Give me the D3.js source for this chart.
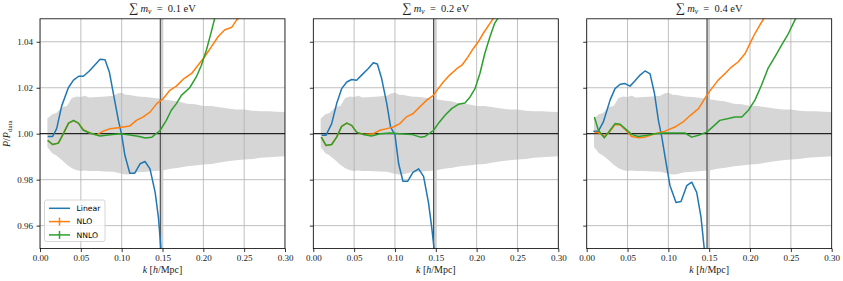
<!DOCTYPE html>
<html><head><meta charset="utf-8">
<script src="https://cdn.jsdelivr.net/npm/d3@7"></script>
<style>html,body{margin:0;padding:0;background:#fff;}svg{display:block;}</style>
</head><body>
<script>
// ---------- data ----------
const panelTitles = ["0.1", "0.2", "0.4"];
const xTicks = [0.00, 0.05, 0.10, 0.15, 0.20, 0.25, 0.30];
const yTicks = [0.96, 0.98, 1.00, 1.02, 1.04];
const kCut = 0.1473;

const bandK     = [0.009,0.015,0.02,0.027,0.033,0.039,0.045,0.05,0.055,0.06,0.07,0.08,0.09,0.095,0.1,0.105,0.11,0.12,0.13,0.14,0.15,0.16,0.17,0.18,0.19,0.2,0.21,0.22,0.23,0.24,0.25,0.26,0.27,0.28,0.29,0.3];
const bandUpper = [1.0066,1.0085,1.009,1.0116,1.012,1.0155,1.0162,1.016,1.0165,1.0158,1.016,1.0162,1.0165,1.0175,1.0178,1.017,1.0168,1.0162,1.016,1.0155,1.015,1.0145,1.014,1.013,1.0128,1.012,1.012,1.0115,1.011,1.0105,1.0105,1.01,1.0098,1.0098,1.0095,1.0094];
const bandLower = [0.9942,0.9915,0.9905,0.9884,0.9865,0.985,0.9841,0.9838,0.984,0.9838,0.9838,0.9836,0.9834,0.983,0.9826,0.9822,0.9824,0.9832,0.9834,0.9838,0.984,0.9848,0.9852,0.9858,0.9862,0.9866,0.9868,0.9875,0.988,0.9885,0.9888,0.989,0.9895,0.9897,0.99,0.9902];

// Panel 1 (0.1 eV)
const lin1K = [0.0094,0.0155,0.0204,0.0265,0.0347,0.041,0.0474,0.0531,0.0604,0.0694,0.0735,0.0796,0.0849,0.0898,0.096,0.1,0.104,0.11,0.116,0.1225,0.1286,0.1347,0.141,0.145,0.1485];
const lin1V = [0.9988,0.9988,1.0022,1.012,1.02,1.0233,1.025,1.025,1.0273,1.0308,1.0324,1.0322,1.0269,1.0175,1.0058,0.9995,0.9905,0.9828,0.9828,0.9869,0.9879,0.9847,0.9745,0.9636,0.948];
const nlo1K = [0.0094,0.0155,0.0225,0.0286,0.035,0.041,0.047,0.053,0.061,0.069,0.078,0.086,0.098,0.11,0.118,0.1265,0.1347,0.143,0.151,0.159,0.167,0.175,0.1857,0.1935,0.2016,0.2098,0.218,0.226,0.2347,0.2408,0.2460];
const nlo1V = [0.9971,0.9953,0.9959,1.0,1.0046,1.0056,1.0046,1.0018,1.0003,0.9995,1.0012,1.0022,1.0027,1.0034,1.0058,1.0073,1.0094,1.0131,1.0153,1.0189,1.0207,1.0236,1.0262,1.0298,1.0335,1.0378,1.0422,1.0451,1.0463,1.0495,1.051];
const nnlo1K = [0.0094,0.0155,0.0225,0.0286,0.035,0.041,0.047,0.053,0.061,0.0735,0.086,0.098,0.108,0.12,0.129,0.137,0.147,0.1547,0.1608,0.167,0.1731,0.1833,0.1914,0.1976,0.2037,0.2098,0.2145];
const nnlo1V = [0.9971,0.9953,0.9959,1.0,1.0046,1.0058,1.0046,1.0015,1.0003,0.999,0.9995,1.0,0.9995,0.9989,0.9981,0.9985,1.0014,1.0058,1.0102,1.0131,1.0167,1.02,1.0247,1.0298,1.0363,1.0444,1.051];

// Panel 2 (0.2 eV)
const lin2K = [0.0103,0.0155,0.0225,0.0286,0.0347,0.041,0.047,0.053,0.0592,0.0674,0.0735,0.0784,0.0837,0.09,0.0947,0.1,0.1045,0.1098,0.1155,0.122,0.129,0.135,0.141,0.145,0.1485];
const lin2V = [0.9993,0.9993,1.0044,1.0131,1.0196,1.0225,1.0236,1.0233,1.0255,1.0284,1.0309,1.0303,1.024,1.0131,1.0029,0.9995,0.9869,0.9793,0.9793,0.9832,0.9847,0.9814,0.9701,0.9592,0.948];
const nlo2K = [0.0098,0.0155,0.0225,0.0286,0.0347,0.041,0.047,0.053,0.061,0.0735,0.0816,0.09,0.098,0.106,0.114,0.122,0.131,0.139,0.147,0.153,0.1592,0.167,0.176,0.182,0.188,0.196,0.202,0.208,0.2163,0.222];
const nlo2V = [0.9985,0.9949,0.9953,0.9985,1.0032,1.0046,1.0036,1.0007,0.9997,1.0,1.0015,1.0022,1.0029,1.0044,1.0073,1.0087,1.0119,1.0146,1.0167,1.0196,1.0225,1.0255,1.0284,1.0298,1.0327,1.0371,1.04,1.0436,1.048,1.051];
const nnlo2K = [0.0098,0.0155,0.0225,0.0286,0.0347,0.041,0.047,0.053,0.061,0.0714,0.0816,0.094,0.106,0.1204,0.131,0.137,0.147,0.153,0.1613,0.1694,0.1776,0.1857,0.192,0.198,0.204,0.21,0.2163,0.222,0.2275];
const nnlo2V = [0.9985,0.9949,0.9953,0.9985,1.0032,1.0046,1.0036,1.0007,0.9997,0.999,1.0,1.0003,1.0,0.9997,0.9985,0.9988,1.0014,1.0044,1.008,1.0109,1.0128,1.0134,1.016,1.0196,1.0262,1.0349,1.0422,1.048,1.051];

// Panel 3 (0.4 eV)
const lin3K = [0.0082,0.0143,0.0204,0.0286,0.0347,0.041,0.047,0.053,0.0592,0.0653,0.0714,0.0776,0.083,0.0878,0.092,0.096,0.102,0.1094,0.1155,0.1225,0.1286,0.1347,0.14,0.1445];
const lin3V = [1.0011,1.0011,1.0051,1.0146,1.0196,1.0215,1.0218,1.0207,1.023,1.0255,1.0273,1.026,1.0175,1.0058,0.9985,0.9898,0.9774,0.9701,0.9705,0.9774,0.9789,0.9745,0.9636,0.948];
const nlo3K = [0.0094,0.0143,0.0216,0.0286,0.0347,0.041,0.047,0.055,0.0633,0.0714,0.0837,0.096,0.108,0.118,0.127,0.137,0.147,0.153,0.161,0.1694,0.1776,0.1857,0.194,0.2,0.206,0.212,0.2185];
const nlo3V = [1.0005,1.0005,0.9988,1.001,1.004,1.0038,1.0018,0.9988,0.9982,0.9985,1.0,1.0011,1.0029,1.0051,1.008,1.0109,1.0167,1.0196,1.0233,1.0262,1.0291,1.0313,1.0349,1.0393,1.0436,1.0473,1.051];
const nnlo3K = [0.0094,0.0143,0.0216,0.0286,0.0347,0.041,0.047,0.055,0.0633,0.0735,0.0837,0.096,0.108,0.1204,0.1286,0.137,0.147,0.155,0.163,0.1735,0.1816,0.19,0.198,0.206,0.214,0.222,0.2306,0.2388,0.247,0.255,0.2575];
const nnlo3V = [1.0073,1.0015,0.9982,1.0015,1.0044,1.0041,1.0022,0.9997,0.9988,0.9993,1.0,1.0003,1.0003,1.0003,0.9985,0.9993,1.0007,1.0032,1.0058,1.0066,1.0073,1.0073,1.0102,1.0146,1.0211,1.0284,1.0335,1.0386,1.0436,1.0495,1.051];

const panels = [
  {title: panelTitles[0], lin:[lin1K,lin1V], nlo:[nlo1K,nlo1V], nnlo:[nnlo1K,nnlo1V]},
  {title: panelTitles[1], lin:[lin2K,lin2V], nlo:[nlo2K,nlo2V], nnlo:[nnlo2K,nnlo2V]},
  {title: panelTitles[2], lin:[lin3K,lin3V], nlo:[nlo3K,nlo3V], nnlo:[nnlo3K,nnlo3V]},
];
const colors = {lin:"#1f77b4", nlo:"#ff7f0e", nnlo:"#2ca02c"};

// ---------- layout ----------
const W = 843, H = 281;
const panelLeft = [40, 313.3, 586.7];
const pw = 245, plotTop = 18.8, plotBottom = 248.6;
const serif = "'Liberation Serif', 'DejaVu Serif', serif";

const svg = d3.select("body").append("svg").attr("width", W).attr("height", H);

const y = d3.scaleLinear().domain([0.95, 1.05]).range([plotBottom, plotTop]);

panels.forEach((p, i) => {
  const x = d3.scaleLinear().domain([0, 0.30]).range([panelLeft[i], panelLeft[i] + pw]);
  const g = svg.append("g");
  const clipId = "clip" + i;
  svg.append("clipPath").attr("id", clipId).append("rect")
    .attr("x", x(0)).attr("y", plotTop).attr("width", pw).attr("height", plotBottom - plotTop);

  const cg = g.append("g").attr("clip-path", `url(#${clipId})`);

  // band
  const area = d3.area().x((d) => x(d[0])).y0((d) => y(d[2])).y1((d) => y(d[1]));
  cg.append("path").datum(bandK.map((k, j) => [k, bandUpper[j], bandLower[j]]))
    .attr("d", area).attr("fill", "#d6d6d6");

  // grid
  cg.selectAll(".gx").data(xTicks).join("line")
    .attr("x1", (d) => x(d)).attr("x2", (d) => x(d)).attr("y1", plotTop).attr("y2", plotBottom)
    .attr("stroke", "#b0b0b0").attr("stroke-width", 0.8);
  cg.selectAll(".gy").data(yTicks).join("line")
    .attr("x1", x(0)).attr("x2", x(0.3)).attr("y1", (d) => y(d)).attr("y2", (d) => y(d))
    .attr("stroke", "#b0b0b0").attr("stroke-width", 0.8);

  // reference lines
  cg.append("rect").attr("x", x(kCut)).attr("y", plotTop).attr("width", 3).attr("height", plotBottom - plotTop)
    .attr("fill", "#cfcfcf");
  cg.append("line").attr("x1", x(kCut)).attr("x2", x(kCut)).attr("y1", plotTop).attr("y2", plotBottom)
    .attr("stroke", "#444").attr("stroke-width", 1.1);
  cg.append("line").attr("x1", x(0)).attr("x2", x(0.3)).attr("y1", y(1)).attr("y2", y(1))
    .attr("stroke", "#000").attr("stroke-width", 1);

  // curves
  const line = d3.line().x((d) => x(d[0])).y((d) => y(d[1]));
  [["lin", p.lin], ["nlo", p.nlo], ["nnlo", p.nnlo]].forEach(([key, arr]) => {
    cg.append("path").datum(arr[0].map((k, j) => [k, arr[1][j]]))
      .attr("d", line).attr("fill", "none").attr("stroke", colors[key])
      .attr("stroke-width", 1.5).attr("stroke-linejoin", "round");
  });

  // axes
  const xAxis = d3.axisBottom(x).tickValues(xTicks).tickSize(3.5).tickPadding(3).tickFormat(d3.format(".2f"));
  const gx = g.append("g").attr("transform", `translate(0,${plotBottom})`).call(xAxis);
  const yAxis = d3.axisLeft(y).tickValues(yTicks).tickSize(3.5).tickPadding(3.5)
    .tickFormat(i === 0 ? d3.format(".2f") : () => "");
  const gy = g.append("g").attr("transform", `translate(${x(0)},0)`).call(yAxis);
  [gx, gy].forEach((a) => {
    a.select(".domain").remove();
    a.selectAll(".tick line").attr("stroke", "#000").attr("stroke-width", 0.8);
    a.selectAll(".tick text").attr("font-family", serif).attr("font-size", 9).attr("fill", "#222");
  });

  // frame
  g.append("rect").attr("x", x(0)).attr("y", plotTop).attr("width", pw).attr("height", plotBottom - plotTop)
    .attr("fill", "none").attr("stroke", "#000").attr("stroke-width", 0.8);

  // title
  const t = g.append("text").attr("x", x(0.15)).attr("y", 12).attr("text-anchor", "middle")
    .attr("font-family", serif).attr("font-size", 10.5).attr("fill", "#222");
  t.append("tspan").attr("font-size", 13).text("∑");
  t.append("tspan").attr("dx", 2).attr("font-style", "italic").text("m");
  t.append("tspan").attr("font-style", "italic").attr("font-size", 7.5).attr("dy", 2).text("ν");
  t.append("tspan").attr("dy", -2).attr("xml:space", "preserve").text("  =  " + p.title + " eV");

  // x label
  const xl = g.append("text").attr("x", x(0.15)).attr("y", 273).attr("text-anchor", "middle")
    .attr("font-family", serif).attr("font-size", 10).attr("fill", "#222");
  xl.append("tspan").attr("font-style", "italic").text("k");
  xl.append("tspan").text(" [");
  xl.append("tspan").attr("font-style", "italic").text("h");
  xl.append("tspan").text("/Mpc]");
});

// y label
const yl = svg.append("text").attr("transform", `translate(10,${(plotTop + plotBottom) / 2}) rotate(-90)`)
  .attr("text-anchor", "middle").attr("font-family", serif).attr("font-size", 10).attr("fill", "#222");
yl.append("tspan").attr("font-style", "italic").text("P");
yl.append("tspan").text("/");
yl.append("tspan").attr("font-style", "italic").text("P");
yl.append("tspan").attr("font-size", 7).attr("dy", 1.8).text("data");

// legend
const legendLabels = ["Linear", "NLO", "NNLO"];
const legendKeys = ["lin", "nlo", "nnlo"];
const lg = svg.append("g");
lg.append("rect").attr("x", 44.5).attr("y", 200).attr("width", 60.5).attr("height", 41.5).attr("rx", 2)
  .attr("fill", "#fff").attr("fill-opacity", 0.8).attr("stroke", "#ccc").attr("stroke-width", 0.8);
legendLabels.forEach((lab, j) => {
  const yy = 208.3 + j * 13.3;
  lg.append("line").attr("x1", 49).attr("x2", 70).attr("y1", yy).attr("y2", yy)
    .attr("stroke", colors[legendKeys[j]]).attr("stroke-width", 1.5);
  if (j > 0) {
    lg.append("line").attr("x1", 59.5).attr("x2", 59.5).attr("y1", yy - 4).attr("y2", yy + 4)
      .attr("stroke", colors[legendKeys[j]]).attr("stroke-width", 1.5);
  }
  lg.append("text").attr("x", 76.5).attr("y", yy + 2.8).attr("font-family", "'DejaVu Sans', sans-serif")
    .attr("font-size", 7.7).attr("fill", "#000").text(lab);
});
</script>
</body></html>
